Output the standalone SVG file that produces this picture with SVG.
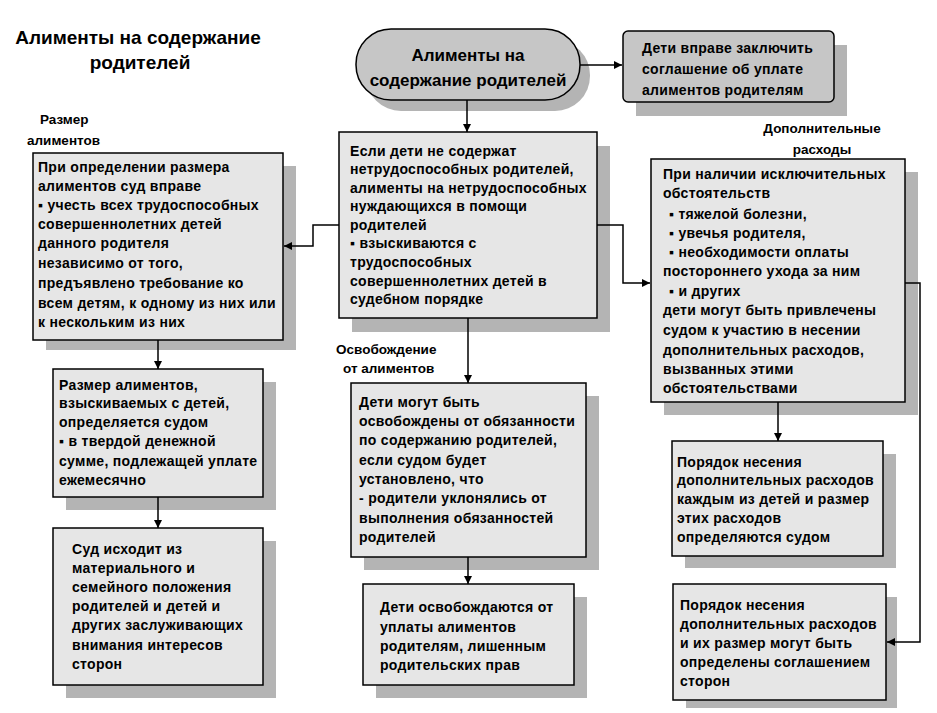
<svg xmlns="http://www.w3.org/2000/svg" width="937" height="713" viewBox="0 0 937 713">
<defs>
<style>
.t{font-family:"Liberation Sans",Arial,sans-serif;font-weight:bold;font-size:14px;letter-spacing:0.3px;fill:#000}
.lb{font-family:"Liberation Sans",Arial,sans-serif;font-weight:bold;font-size:13.5px;fill:#000}
.ttl{font-family:"Liberation Sans",Arial,sans-serif;font-weight:bold;font-size:19px;fill:#000}
.ov{font-family:"Liberation Sans",Arial,sans-serif;font-weight:bold;font-size:17px;fill:#000}
.box{fill:#e6e6e6;stroke:#000;stroke-width:1.5}
.dark{fill:#c6c6c6;stroke:#000;stroke-width:1.5}
.sh{fill:#b4b4b4}
.c{fill:none;stroke:#000;stroke-width:1.5}
</style>
<marker id="a" viewBox="0 0 8 8" refX="8" refY="4" markerWidth="8" markerHeight="8" markerUnits="userSpaceOnUse" orient="auto">
<path d="M0,0 L8,4 L0,8 Z" fill="#000"/>
</marker>
</defs>
<rect width="937" height="713" fill="#fff"/>

<g id="title">
<text class="ttl" x="138" y="44" text-anchor="middle">Алименты на содержание</text>
<text class="ttl" x="140" y="69" text-anchor="middle">родителей</text>
</g>
<g id="label-razmer">
<text class="lb" x="40" y="124">Размер</text>
<text class="lb" x="27" y="145">алиментов</text>
</g>
<g id="label-dop">
<text class="lb" x="822" y="133" text-anchor="middle">Дополнительные</text>
<text class="lb" x="822" y="154" text-anchor="middle">расходы</text>
</g>
<g id="label-osv">
<text class="lb" x="336" y="354">Освобождение</text>
<text class="lb" x="343" y="373">от алиментов</text>
</g>

<g id="oval">
<rect class="sh" x="366" y="40" width="224" height="71" rx="35"/>
<rect class="dark" x="356" y="29" width="224" height="71" rx="35"/>
<text class="ov" x="468" y="61" text-anchor="middle">Алименты на</text>
<text class="ov" x="468" y="86" text-anchor="middle">содержание родителей</text>
</g>

<g id="agreement">
<rect class="sh" x="636" y="45" width="211" height="71"/>
<rect class="dark" x="623" y="31" width="211" height="71" rx="5"/>
<text class="t" x="642" y="53">Дети вправе заключить</text>
<text class="t" x="642" y="74">соглашение об уплате</text>
<text class="t" x="642" y="95">алиментов родителям</text>
</g>

<g id="center1">
<rect class="sh" x="352" y="146" width="258" height="186"/>
<rect class="box" x="339" y="132" width="258" height="186"/>
<text class="t" x="350" y="156">Если дети не содержат</text>
<text class="t" x="350" y="174">нетрудоспособных родителей,</text>
<text class="t" x="350" y="193">алименты на нетрудоспособных</text>
<text class="t" x="350" y="211">нуждающихся в помощи</text>
<text class="t" x="350" y="230">родителей</text>
<text class="t" x="350" y="248">▪ взыскиваются с</text>
<text class="t" x="350" y="267">трудоспособных</text>
<text class="t" x="350" y="286">совершеннолетних детей в</text>
<text class="t" x="350" y="304">судебном порядке</text>
</g>

<g id="left1">
<rect class="sh" x="46" y="166" width="250" height="184"/>
<rect class="box" x="33" y="153" width="250" height="187"/>
<text class="t" x="38" y="172">При определении размера</text>
<text class="t" x="38" y="191">алиментов суд вправе</text>
<text class="t" x="38" y="210">▪ учесть всех трудоспособных</text>
<text class="t" x="38" y="229">совершеннолетних детей</text>
<text class="t" x="38" y="248">данного родителя</text>
<text class="t" x="38" y="268">независимо от того,</text>
<text class="t" x="38" y="288">предъявлено требование ко</text>
<text class="t" x="38" y="308">всем детям, к одному из них или</text>
<text class="t" x="38" y="327">к нескольким из них</text>
</g>

<g id="left2">
<rect class="sh" x="66" y="382" width="210" height="128"/>
<rect class="box" x="53" y="369" width="210" height="128"/>
<text class="t" x="59" y="390">Размер алиментов,</text>
<text class="t" x="59" y="408">взыскиваемых с детей,</text>
<text class="t" x="59" y="427">определяется судом</text>
<text class="t" x="59" y="446">▪ в твердой денежной</text>
<text class="t" x="59" y="466">сумме, подлежащей уплате</text>
<text class="t" x="59" y="485">ежемесячно</text>
</g>

<g id="left3">
<rect class="sh" x="66" y="541" width="210" height="157"/>
<rect class="box" x="53" y="528" width="210" height="157"/>
<text class="t" x="72" y="554">Суд исходит  из</text>
<text class="t" x="72" y="573">материального  и</text>
<text class="t" x="72" y="592">семейного положения</text>
<text class="t" x="72" y="611">родителей и детей  и</text>
<text class="t" x="72" y="630">других заслуживающих</text>
<text class="t" x="72" y="650">внимания интересов</text>
<text class="t" x="72" y="669">сторон</text>
</g>

<g id="center2">
<rect class="sh" x="364" y="396" width="235" height="174"/>
<rect class="box" x="351" y="383" width="235" height="174"/>
<text class="t" x="359" y="407">Дети могут быть</text>
<text class="t" x="359" y="426">освобождены от обязанности</text>
<text class="t" x="359" y="445">по содержанию родителей,</text>
<text class="t" x="359" y="465">если судом будет</text>
<text class="t" x="359" y="484">установлено, что</text>
<text class="t" x="359" y="503">- родители уклонялись от</text>
<text class="t" x="359" y="523">выполнения обязанностей</text>
<text class="t" x="359" y="542">родителей</text>
</g>

<g id="center3">
<rect class="sh" x="376" y="597" width="211" height="101"/>
<rect class="box" x="363" y="584" width="211" height="101"/>
<text class="t" x="380" y="612">Дети освобождаются от</text>
<text class="t" x="380" y="632">уплаты алиментов</text>
<text class="t" x="380" y="651">родителям, лишенным</text>
<text class="t" x="380" y="670">родительских прав</text>
</g>

<g id="right1">
<rect class="sh" x="664" y="172" width="254" height="243"/>
<rect class="box" x="651" y="159" width="254" height="243"/>
<text class="t" x="663" y="179">При наличии исключительных</text>
<text class="t" x="663" y="198">обстоятельств</text>
<text class="t" x="669" y="219">▪ тяжелой болезни,</text>
<text class="t" x="669" y="238">▪ увечья родителя,</text>
<text class="t" x="669" y="257">▪ необходимости оплаты</text>
<text class="t" x="663" y="276">постороннего ухода за ним</text>
<text class="t" x="669" y="296">▪ и других</text>
<text class="t" x="663" y="315">дети могут быть привлечены</text>
<text class="t" x="663" y="335">судом к участию в несении</text>
<text class="t" x="663" y="355">дополнительных расходов,</text>
<text class="t" x="663" y="374">вызванных этими</text>
<text class="t" x="663" y="393">обстоятельствами</text>
</g>

<g id="right2">
<rect class="sh" x="685" y="454" width="211" height="114"/>
<rect class="box" x="672" y="441" width="211" height="115"/>
<text class="t" x="677" y="467">Порядок несения</text>
<text class="t" x="677" y="485">дополнительных расходов</text>
<text class="t" x="677" y="504">каждым из детей и размер</text>
<text class="t" x="677" y="523">этих расходов</text>
<text class="t" x="677" y="542">определяются судом</text>
</g>

<g id="right3">
<rect class="sh" x="686" y="597" width="211" height="111"/>
<rect class="box" x="673" y="584" width="213" height="116"/>
<text class="t" x="680" y="610">Порядок несения</text>
<text class="t" x="680" y="629">дополнительных расходов</text>
<text class="t" x="680" y="648">и их размер могут быть</text>
<text class="t" x="680" y="667">определены соглашением</text>
<text class="t" x="680" y="686">сторон</text>
</g>

<g id="connectors">
<path class="c" d="M580,65 H622" marker-end="url(#a)"/>
<path class="c" d="M467,100 V132" marker-end="url(#a)"/>
<path class="c" d="M339,225 H313 V246 H284" marker-end="url(#a)"/>
<path class="c" d="M597,225 H623 V283 H650" marker-end="url(#a)"/>
<path class="c" d="M158,340 V369" marker-end="url(#a)"/>
<path class="c" d="M158,497 V528" marker-end="url(#a)"/>
<path class="c" d="M468,318 V383" marker-end="url(#a)"/>
<path class="c" d="M468,557 V584" marker-end="url(#a)"/>
<path class="c" d="M778,402 V441" marker-end="url(#a)"/>
<path class="c" d="M905,283 H920 V642 H887" marker-end="url(#a)"/>
</g>
</svg>
